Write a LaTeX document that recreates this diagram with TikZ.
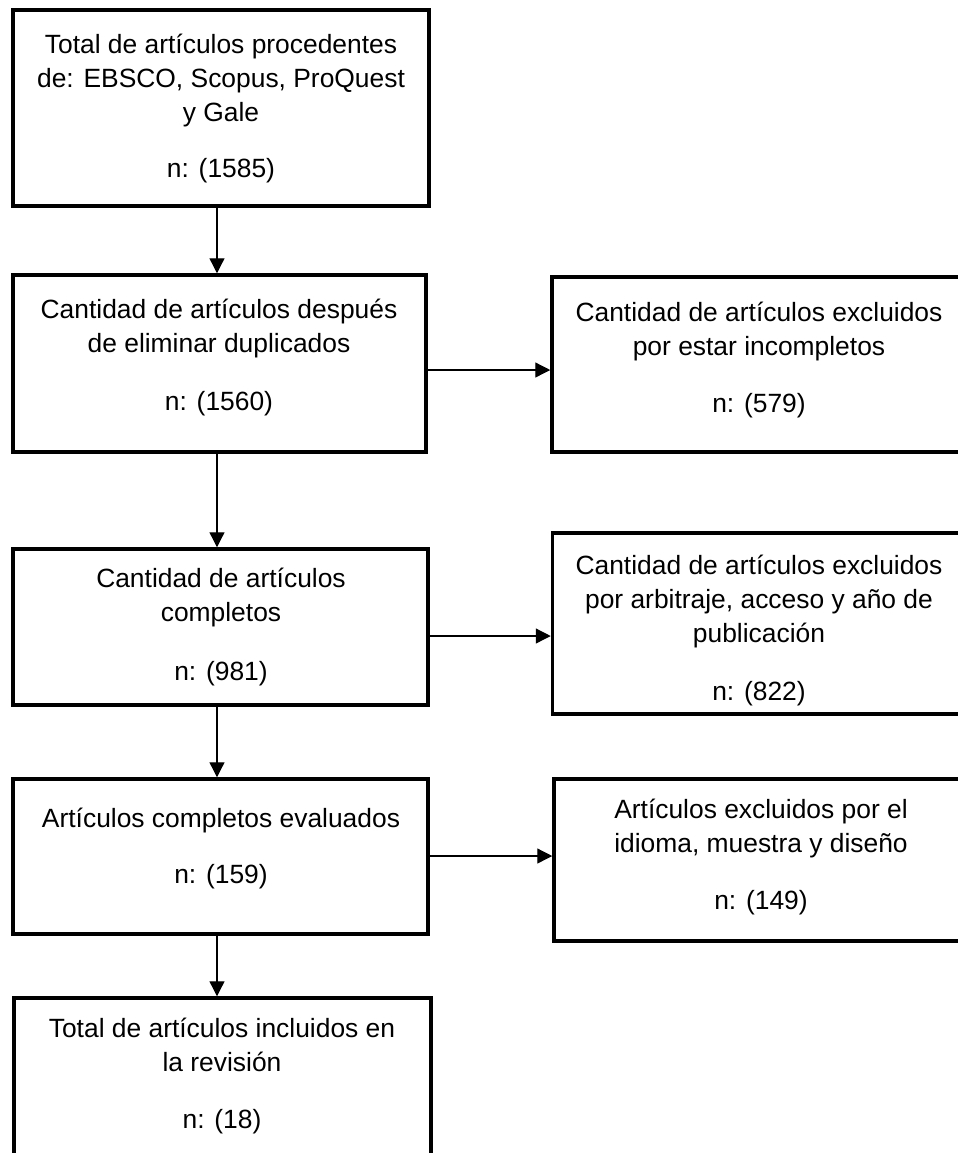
\documentclass[tikz,border=0pt]{standalone}
\usepackage{fontspec}
\setmainfont{Liberation Sans}
\usetikzlibrary{arrows.meta}
\begin{document}
\begin{tikzpicture}[x=0.5pt,y=-0.5pt,
  box/.style={draw,line width=1.75pt,inner sep=0pt,fill=none},
  txt/.style={anchor=base,inner sep=0pt,font=\fontsize{13.2pt}{17pt}\selectfont},
  arr/.style={line width=0.65pt,-{Triangle[length=7.5pt,width=7.5pt]}}]
\useasboundingbox (0,0) rectangle (958,1153);
\clip (0,0) rectangle (958,1153);
% boxes
\node[box,minimum width=208pt,minimum height=98pt] (b1) at (221,108) {};
\node[box,minimum width=206.5pt,minimum height=88.5pt] (b2) at (219.5,363.5) {};
\node[box,minimum width=219pt,minimum height=87.5pt] (b3) at (771,364.5) {};
\node[box,minimum width=207.5pt,minimum height=78pt] (b4) at (220.5,627) {};
\node[box,minimum width=218.75pt,minimum height=90.5pt] (b5) at (771.25,623.5) {};
\node[box,minimum width=207.5pt,minimum height=77.5pt] (b6) at (220.5,856.5) {};
\node[box,minimum width=218pt,minimum height=81pt] (b7) at (772,860) {};
\node[box,minimum width=208.5pt,minimum height=96pt] (b8) at (222.5,1094) {};
% texts
\node[txt] (t1) at (221,53) {\parbox[t]{210pt}{\centering Total de artículos procedentes\\de: EBSCO, Scopus, ProQuest\\y Gale}};
\node[txt] (n1) at (221,177) {n: (1585)};
\node[txt] (t2) at (219,318) {\parbox[t]{210pt}{\centering Cantidad de artículos después\\de eliminar duplicados}};
\node[txt] (n2) at (219,410) {n: (1560)};
\node[txt] (t3) at (759,321) {\parbox[t]{210pt}{\centering Cantidad de artículos excluidos\\por estar incompletos}};
\node[txt] (n3) at (759,412) {n: (579)};
\node[txt] (t4) at (221,587) {\parbox[t]{210pt}{\centering Cantidad de artículos\\completos}};
\node[txt] (n4) at (221,680) {n: (981)};
\node[txt] (t5) at (759,574) {\parbox[t]{210pt}{\centering Cantidad de artículos excluidos\\por arbitraje, acceso y año de\\publicación}};
\node[txt] (n5) at (759,700) {n: (822)};
\node[txt] (t6) at (221,827) {Artículos completos evaluados};
\node[txt] (n6) at (221,883) {n: (159)};
\node[txt] (t7) at (761,818) {\parbox[t]{210pt}{\centering Artículos excluidos por el\\idioma, muestra y diseño}};
\node[txt] (n7) at (761,909) {n: (149)};
\node[txt] (t8) at (222,1037) {\parbox[t]{210pt}{\centering Total de artículos incluidos en\\la revisión}};
\node[txt] (n8) at (222,1128) {n: (18)};
% connector guides
\coordinate (ax) at (217,0);
\coordinate (h1) at (0,370);
\coordinate (h2) at (0,636);
\coordinate (h3) at (0,856);
% connectors
\draw[arr] (b1.south -| ax) -- (b2.north -| ax);
\draw[arr] (b2.south -| ax) -- (b4.north -| ax);
\draw[arr] (b4.south -| ax) -- (b6.north -| ax);
\draw[arr] (b6.south -| ax) -- (b8.north -| ax);
\draw[arr] (b2.east |- h1) -- (b3.west |- h1);
\draw[arr] (b4.east |- h2) -- (b5.west |- h2);
\draw[arr] (b6.east |- h3) -- (b7.west |- h3);
\end{tikzpicture}
\end{document}
